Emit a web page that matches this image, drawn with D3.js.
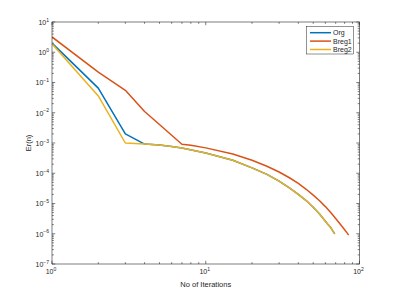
<!DOCTYPE html>
<html>
<head>
<meta charset="utf-8">
<script src="https://cdn.jsdelivr.net/npm/d3@7"></script>
<style>
  html, body { margin: 0; padding: 0; background: #fff; }
  svg { display: block; font-family: "Liberation Sans", Arial, sans-serif; }
</style>
</head>
<body>
<svg id="chart" width="397" height="297"></svg>
<script>
// ── Data ──────────────────────────────────────────────────────────────────────

const seriesNames = ['Org', 'Breg1', 'Breg2'];
const seriesColors = ['#0072BD', '#D95319', '#EDB120'];

const orgIter = [1, 2, 3, 4, 5, 6, 7, 10, 15, 20, 25, 30, 35, 40, 45, 50, 55, 60, 62, 65, 67, 69];
const orgErr  = [2.0, 0.065, 2.0e-3, 9.2e-4, 8.6e-4, 7.7e-4, 6.8e-4, 4.7e-4, 2.7e-4, 1.5e-4,
                 9.2e-5, 5.5e-5, 3.3e-5, 2.0e-5, 1.25e-5, 7.5e-6, 4.5e-6, 2.6e-6, 2.1e-6,
                 1.6e-6, 1.25e-6, 1.0e-6];

const breg1Iter = [1, 2, 3, 4, 5, 6, 7, 8, 10, 15, 20, 25, 30, 35, 40, 45, 50, 55, 60, 65, 70,
                   75, 78, 80, 83, 85];
const breg1Err  = [3.2, 0.22, 0.055, 0.011, 4.1e-3, 1.8e-3, 9.1e-4, 8.4e-4, 6.9e-4, 4.3e-4,
                   2.7e-4, 1.7e-4, 1.1e-4, 7.1e-5, 4.6e-5, 2.95e-5, 1.9e-5, 1.23e-5, 7.9e-6,
                   5.0e-6, 3.2e-6, 2.05e-6, 1.6e-6, 1.35e-6, 1.07e-6, 9.0e-7];

const breg2Iter = [1, 2, 3, 4, 5, 6, 7, 10, 15, 20, 25, 30, 35, 40, 45, 50, 55, 60, 62, 65, 67, 69];
const breg2Err  = [1.9, 0.036, 1.0e-3, 9.2e-4, 8.6e-4, 7.7e-4, 6.8e-4, 4.7e-4, 2.7e-4, 1.5e-4,
                   9.2e-5, 5.5e-5, 3.3e-5, 2.0e-5, 1.25e-5, 7.5e-6, 4.5e-6, 2.6e-6, 2.1e-6,
                   1.6e-6, 1.25e-6, 1.0e-6];

const xMajor = [1, 10, 100];
const yMajor = [1e-7, 1e-6, 1e-5, 1e-4, 1e-3, 1e-2, 1e-1, 1, 10];

// ── Layout ────────────────────────────────────────────────────────────────────

const plot = { left: 52, top: 22, right: 359.5, bottom: 264 };
const axisColor = '#262626';

const svg = d3.select('#chart');

const x = d3.scaleLog().domain([1, 100]).range([plot.left, plot.right]);
const y = d3.scaleLog().domain([1e-7, 10]).range([plot.bottom, plot.top]);

// minor ticks: 2..9 of every decade
function minorTicks(lo, hi) {
  const out = [];
  for (let d = lo; d < hi; d *= 10) {
    for (let m = 2; m <= 9; m++) out.push(d * m);
  }
  return out;
}
const xMinor = minorTicks(1, 100);
const yMinor = minorTicks(1e-7, 10);

// ── Axes background + ticks (MATLAB-style box, ticks inside) ──────────────────

svg.append('rect')
  .attr('x', plot.left).attr('y', plot.top)
  .attr('width', plot.right - plot.left).attr('height', plot.bottom - plot.top)
  .attr('fill', '#fff');

const tickG = svg.append('g')
  .attr('stroke', axisColor).attr('stroke-width', 0.6).attr('fill', 'none');

function xTicks(vals, len) {
  vals.forEach(v => {
    const px = x(v);
    tickG.append('line').attr('x1', px).attr('x2', px).attr('y1', plot.bottom).attr('y2', plot.bottom - len);
    tickG.append('line').attr('x1', px).attr('x2', px).attr('y1', plot.top).attr('y2', plot.top + len);
  });
}
function yTicks(vals, len) {
  vals.forEach(v => {
    const py = y(v);
    tickG.append('line').attr('y1', py).attr('y2', py).attr('x1', plot.left).attr('x2', plot.left + len);
    tickG.append('line').attr('y1', py).attr('y2', py).attr('x1', plot.right).attr('x2', plot.right - len);
  });
}
xTicks(xMajor, 3.2);
xTicks(xMinor, 1.8);
yTicks(yMajor, 3.2);
yTicks(yMinor, 1.8);

// ── Series ────────────────────────────────────────────────────────────────────

const lineGen = d3.line().x(d => x(d[0])).y(d => y(d[1]));
const series = [
  d3.zip(orgIter, orgErr),
  d3.zip(breg1Iter, breg1Err),
  d3.zip(breg2Iter, breg2Err)
];

svg.append('clipPath').attr('id', 'plot-clip')
  .append('rect')
  .attr('x', plot.left).attr('y', plot.top)
  .attr('width', plot.right - plot.left).attr('height', plot.bottom - plot.top);

svg.append('g').attr('clip-path', 'url(#plot-clip)')
  .selectAll('path')
  .data(series)
  .join('path')
  .attr('d', lineGen)
  .attr('fill', 'none')
  .attr('stroke', (d, i) => seriesColors[i])
  .attr('stroke-width', 1.5)
  .attr('stroke-linejoin', 'round');

// box outline on top of the lines
svg.append('rect')
  .attr('x', plot.left).attr('y', plot.top)
  .attr('width', plot.right - plot.left).attr('height', plot.bottom - plot.top)
  .attr('fill', 'none').attr('stroke', axisColor).attr('stroke-width', 0.6);

// ── Tick labels (10^k) ────────────────────────────────────────────────────────

function powLabel(parent, px, py, v, anchor) {
  const t = parent.append('text')
    .attr('x', px).attr('y', py)
    .attr('text-anchor', anchor)
    .attr('font-size', 7).attr('fill', axisColor);
  t.append('tspan').text('10');
  t.append('tspan')
    .attr('font-size', 5)
    .attr('dy', -3.2)
    .text(Math.round(Math.log10(v)).toString().replace('-', '\u2212'));
}

const labels = svg.append('g');
xMajor.forEach(v => powLabel(labels, x(v) - 1, 274, v, 'middle'));
yMajor.forEach(v => powLabel(labels, plot.left - 3, y(v) + 2.8, v, 'end'));

// axis titles
svg.append('text')
  .attr('x', (plot.left + plot.right) / 2).attr('y', 287)
  .attr('text-anchor', 'middle').attr('font-size', 7.5).attr('fill', axisColor)
  .text('No of Iterations');

svg.append('text')
  .attr('transform', `translate(31,${(plot.top + plot.bottom) / 2}) rotate(-90)`)
  .attr('text-anchor', 'middle').attr('font-size', 7.5).attr('fill', axisColor)
  .text('Er(n)');

// ── Legend ────────────────────────────────────────────────────────────────────

const legend = svg.append('g').attr('transform', 'translate(306.5,26.5)');
legend.append('rect')
  .attr('width', 47).attr('height', 27.5)
  .attr('fill', '#fff').attr('stroke', axisColor).attr('stroke-width', 0.5);

seriesNames.forEach((name, i) => {
  const ly = 6.2 + i * 8.4;
  legend.append('line')
    .attr('x1', 3.5).attr('x2', 24.5).attr('y1', ly).attr('y2', ly)
    .attr('stroke', seriesColors[i]).attr('stroke-width', 1.5);
  legend.append('text')
    .attr('x', 26.5).attr('y', ly + 2.5)
    .attr('font-size', 7).attr('fill', axisColor)
    .text(name);
});
</script>
</body>
</html>
